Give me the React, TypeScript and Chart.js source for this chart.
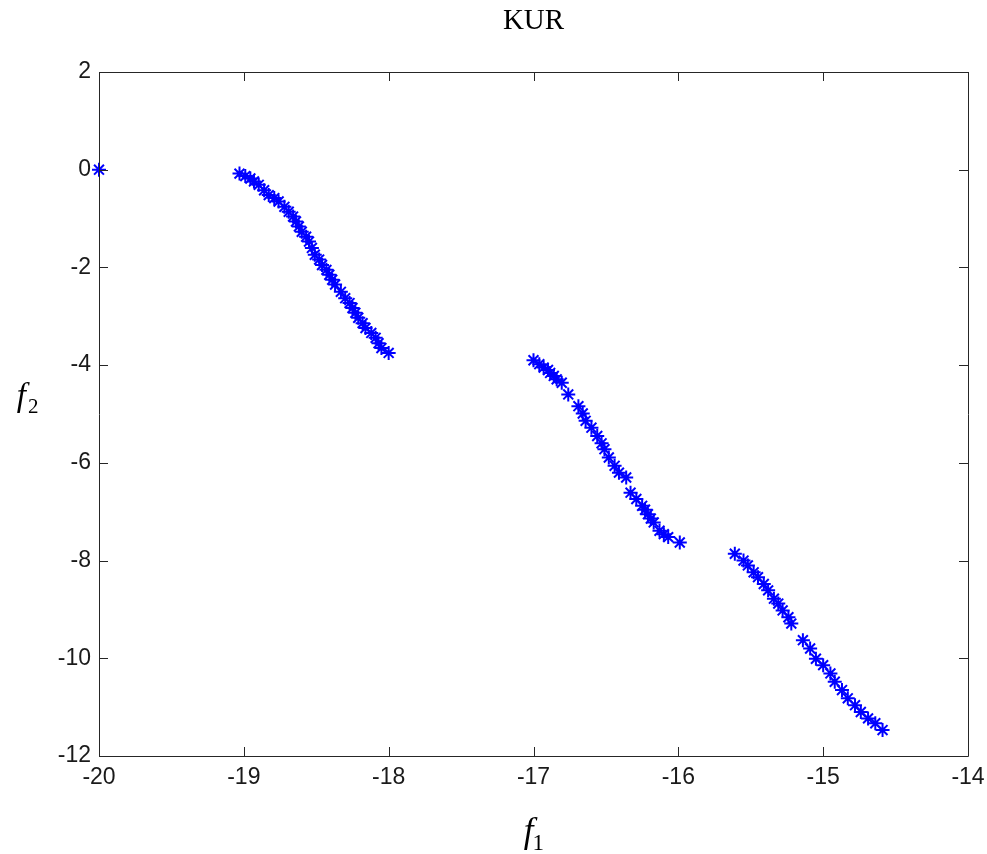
import React, { useEffect, useRef } from "react";
import { Chart, registerables } from "chart.js";

Chart.register(...registerables);

const TITLE = "KUR";
const X_TICKS = [-20, -19, -18, -17, -16, -15, -14];
const Y_TICKS = [2, 0, -2, -4, -6, -8, -10, -12];

const F1_VALUES = [
  -20.0,
  -19.03, -18.99, -18.955, -18.93, -18.897, -18.86, -18.828, -18.79, -18.76, -18.72, -18.69, -18.66, -18.64,
  -18.62, -18.6, -18.57, -18.55, -18.53, -18.51, -18.48, -18.46, -18.43, -18.41, -18.39, -18.37, -18.33,
  -18.3, -18.27, -18.25, -18.23, -18.21, -18.18, -18.16, -18.12, -18.09, -18.07, -18.05, -18.0,
  -17.0, -16.96, -16.93, -16.9, -16.885, -16.86, -16.84, -16.805, -16.76, -16.69, -16.66, -16.64, -16.6,
  -16.56, -16.53, -16.51, -16.48, -16.44, -16.41, -16.36, -16.33, -16.29, -16.25, -16.23, -16.21, -16.19,
  -16.17, -16.13, -16.1, -16.07, -15.99,
  -15.61, -15.55, -15.52, -15.48, -15.45, -15.41, -15.38, -15.34, -15.31, -15.28, -15.24, -15.22,
  -15.14, -15.09, -15.05, -15.0, -14.95, -14.92, -14.87, -14.83, -14.78, -14.74, -14.69, -14.64, -14.59,
];
const F2_VALUES = [
  0.0,
  -0.08, -0.13, -0.18, -0.24, -0.31, -0.42, -0.52, -0.58, -0.65, -0.76, -0.86, -0.96, -1.06,
  -1.16, -1.27, -1.37, -1.47, -1.6, -1.74, -1.84, -1.95, -2.05, -2.15, -2.25, -2.35, -2.5,
  -2.63, -2.73, -2.83, -2.93, -3.03, -3.14, -3.24, -3.34, -3.44, -3.55, -3.65, -3.75,
  -3.9, -3.98, -4.05, -4.1, -4.16, -4.22, -4.29, -4.36, -4.6, -4.84, -4.99, -5.14, -5.28,
  -5.45, -5.6, -5.72, -5.89, -6.06, -6.2, -6.3, -6.61, -6.74, -6.88, -6.96, -7.05, -7.14,
  -7.22, -7.39, -7.46, -7.52, -7.63,
  -7.86, -8.0, -8.1, -8.24, -8.34, -8.48, -8.61, -8.78, -8.88, -9.02, -9.16, -9.29,
  -9.63, -9.8, -10.01, -10.14, -10.31, -10.48, -10.65, -10.82, -10.96, -11.1, -11.23, -11.33, -11.47,
];

const POINTS = F1_VALUES.map((x, i) => ({ x, y: F2_VALUES[i] }));

const TICK_FONT = "'Liberation Sans', Arial, sans-serif";
const SERIF = "'Liberation Serif', 'Times New Roman', serif";

const framePlugin = {
  id: "matlabFrame",
  afterDraw(chart: any) {
    const { ctx, chartArea } = chart;
    const { left, right, top, bottom } = chartArea;
    const xs = chart.scales.x;
    const ys = chart.scales.y;
    const tl = 9;
    ctx.save();
    ctx.strokeStyle = "#262626";
    ctx.lineWidth = 1;
    ctx.beginPath();
    ctx.rect(Math.round(left) + 0.5, Math.round(top) + 0.5, Math.round(right - left), Math.round(bottom - top));
    ctx.stroke();
    ctx.beginPath();
    X_TICKS.forEach((v) => {
      const px = Math.round(xs.getPixelForValue(v)) + 0.5;
      ctx.moveTo(px, bottom);
      ctx.lineTo(px, bottom - tl);
      ctx.moveTo(px, top);
      ctx.lineTo(px, top + tl);
    });
    Y_TICKS.forEach((v) => {
      const py = Math.round(ys.getPixelForValue(v)) + 0.5;
      ctx.moveTo(left, py);
      ctx.lineTo(left + tl, py);
      ctx.moveTo(right, py);
      ctx.lineTo(right - tl, py);
    });
    ctx.stroke();

    // Title
    ctx.fillStyle = "#000";
    ctx.font = `29px ${SERIF}`;
    ctx.textAlign = "center";
    ctx.textBaseline = "alphabetic";
    ctx.fillText(TITLE, (left + right) / 2, 29);

    // x label f1
    const cx = (left + right) / 2 - 2;
    ctx.font = `italic 35px ${SERIF}`;
    ctx.textAlign = "right";
    ctx.fillText("f", cx + 2, 842);
    ctx.font = `23px ${SERIF}`;
    ctx.textAlign = "left";
    ctx.fillText("1", cx + 1, 850);

    // y label f2
    ctx.font = `italic 33px ${SERIF}`;
    ctx.textAlign = "right";
    ctx.fillText("f", 26, 406);
    ctx.font = `21px ${SERIF}`;
    ctx.textAlign = "left";
    ctx.fillText("2", 28, 413);
    ctx.restore();
  },
};

export default function App() {
  const ref = useRef<HTMLCanvasElement | null>(null);
  useEffect(() => {
    if (!ref.current) return;
    const chart = new Chart(ref.current, {
      type: "scatter",
      data: {
        datasets: [
          {
            data: POINTS,
            pointStyle: "star",
            pointRadius: 7,
            pointBorderWidth: 2,
            borderColor: "#0000ff",
            backgroundColor: "#0000ff",
            clip: false as any,
          },
        ],
      },
      options: {
        animation: false,
        responsive: true,
        maintainAspectRatio: false,
        layout: { padding: { top: 72, right: 19, left: 0, bottom: 0 } },
        plugins: { legend: { display: false }, tooltip: { enabled: false }, title: { display: false } },
        scales: {
          x: {
            type: "linear",
            min: -20,
            max: -14,
            afterBuildTicks: (s: any) => {
              s.ticks = X_TICKS.map((v) => ({ value: v }));
            },
            afterFit: (s: any) => {
              s.height = 98;
              s.paddingLeft = 0;
              s.paddingRight = 0;
            },
            grid: { display: false, drawTicks: false },
            border: { display: false },
            ticks: {
              padding: 8,
              color: "#1a1a1a",
              font: { family: TICK_FONT, size: 23 },
              callback: (v: any) => String(v),
            },
          },
          y: {
            type: "linear",
            min: -12,
            max: 2,
            afterBuildTicks: (s: any) => {
              s.ticks = Y_TICKS.map((v) => ({ value: v }));
            },
            afterFit: (s: any) => {
              s.width = 99;
              s.paddingTop = 0;
              s.paddingBottom = 0;
            },
            grid: { display: false, drawTicks: false },
            border: { display: false },
            ticks: {
              padding: 8,
              color: "#1a1a1a",
              font: { family: TICK_FONT, size: 23 },
              callback: (v: any) => String(v),
            },
          },
        },
      },
      plugins: [framePlugin],
    });
    return () => chart.destroy();
  }, []);
  return (
    <div style={{ position: "fixed", left: 0, top: 0, width: 987, height: 854, background: "#fff" }}>
      <canvas ref={ref} />
    </div>
  );
}
